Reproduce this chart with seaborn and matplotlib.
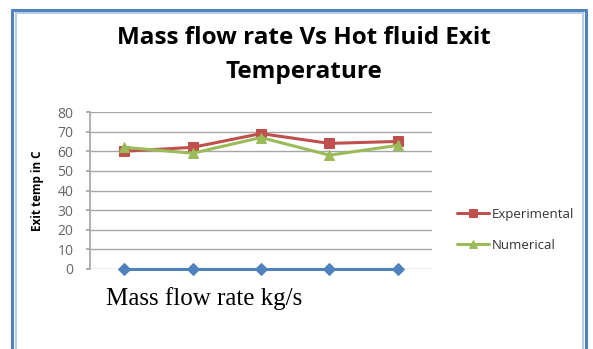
import matplotlib
matplotlib.use("Agg")
import matplotlib.pyplot as plt
from matplotlib.lines import Line2D
import seaborn as sns
import pandas as pd

categories = [1, 2, 3, 4, 5]
mass_flow = [0, 0, 0, 0, 0]
experimental = [60, 62, 69, 64, 65]
numerical = [62, 59, 67, 58, 63]
y_ticks = [0, 10, 20, 30, 40, 50, 60, 70, 80]

sns.set_theme(style="white")
plt.rcParams['font.family'] = ['Open Sans', 'DejaVu Sans']

W, H = 593, 349
fig = plt.figure(figsize=(W / 100, H / 100), dpi=100)
ax = fig.add_axes([90 / W, 1 - 269 / H, (432 - 90) / W, (269 - 112) / H])

df = pd.DataFrame({"cat": categories, "mf": mass_flow, "exp": experimental, "num": numerical})

sns.lineplot(data=df, x="cat", y="mf", ax=ax, color="#4F81BD", marker="D", markersize=6,
             markeredgecolor="#4F81BD", linewidth=2.2, legend=False)
sns.lineplot(data=df, x="cat", y="exp", ax=ax, color="#C0504D", marker="s", markersize=7,
             markeredgecolor="#C0504D", linewidth=2.2, label="Experimental")
sns.lineplot(data=df, x="cat", y="num", ax=ax, color="#9BBB59", marker="^", markersize=7,
             markeredgecolor="#9BBB59", linewidth=2.2, label="Numerical")

ax.set_xlim(0.5, 5.5)
ax.set_ylim(0, 80)
ax.set_yticks(y_ticks)
ax.set_yticklabels([str(v) for v in y_ticks], fontsize=10, color="#666666")
ax.set_xticks([])
ax.grid(axis="y", color="#A6A6A6", linewidth=1.0)
ax.set_axisbelow(True)
for s in ["top", "right", "bottom"]:
    ax.spines[s].set_visible(False)
ax.spines["left"].set_color("#A6A6A6")
ax.tick_params(axis="y", length=3, color="#A6A6A6", pad=9, left=True)
for l in ax.get_lines():
    l.set_clip_on(False)

ax.set_xlabel("")
ax.set_ylabel("")
fig.text(38 / W, 1 - 191 / H, "Exit temp in C", rotation=90, ha="center", va="center",
         fontsize=8.5, fontweight="bold", color="black")

fig.text(304 / W, 1 - 38 / H, "Mass flow rate Vs Hot fluid Exit", ha="center", va="center",
         fontsize=17.5, fontweight="bold", color="black")
fig.text(304 / W, 1 - 72 / H, "Temperature", ha="center", va="center",
         fontsize=17.5, fontweight="bold", color="black")

fig.text(106 / W, 1 - 299 / H, "Mass flow rate kg/s", ha="left", va="center",
         fontsize=18, family=["Liberation Serif", "DejaVu Serif"], color="black")

leg = ax.legend(loc="center left", bbox_to_anchor=((452 - 90) / (432 - 90), (269 - 230) / (269 - 112)),
                frameon=False, fontsize=9.5, handlelength=2.4, labelspacing=1.35,
                handletextpad=0.25, borderaxespad=0, markerscale=0.85)
for t in leg.get_texts():
    t.set_color("#333333")

# frame
fig.add_artist(Line2D([12 / W, 12 / W], [0, 1 - 10 / H], color="#4F81BD", linewidth=2.2))
fig.add_artist(Line2D([16 / W, 16 / W], [0, 1 - 13 / H], color="#B8CCE4", linewidth=1.5))
fig.add_artist(Line2D([12 / W, 586 / W], [1 - 10 / H, 1 - 10 / H], color="#4F81BD", linewidth=2.2))
fig.add_artist(Line2D([586 / W, 586 / W], [0, 1 - 10 / H], color="#4F81BD", linewidth=2.2))
fig.add_artist(Line2D([583 / W, 583 / W], [0, 1 - 13 / H], color="#B8CCE4", linewidth=1.5))
fig.add_artist(Line2D([16 / W, 583 / W], [1 - 13 / H, 1 - 13 / H], color="#B8CCE4", linewidth=1.5))

fig.savefig("out.png", dpi=100)
